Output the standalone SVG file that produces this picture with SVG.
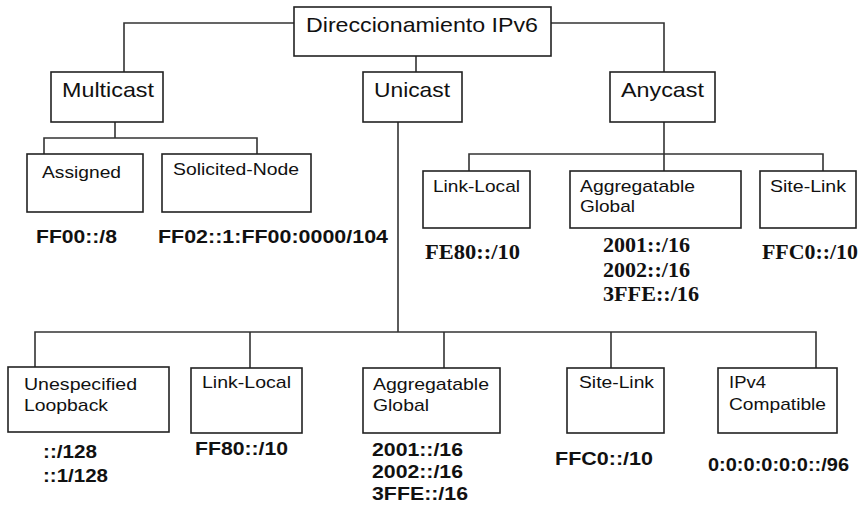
<svg xmlns="http://www.w3.org/2000/svg" width="864" height="506" viewBox="0 0 864 506">
<style>
.box{fill:#fff;stroke:#222;stroke-width:1.6}
.ln{fill:none;stroke:#333;stroke-width:1.6}
.t1{font-family:"Liberation Sans",Arial,sans-serif;font-size:21px;fill:#111}
.t2{font-family:"Liberation Sans",Arial,sans-serif;font-size:17px;fill:#111}
.b{font-family:"Liberation Sans",Arial,sans-serif;font-size:19px;font-weight:bold;fill:#111}
.s{font-family:"Liberation Serif","Times New Roman",serif;font-size:20px;font-weight:bold;fill:#111}
</style>
<rect width="864" height="506" fill="#fff"/>
<g id="connectors">
<polyline class="ln" points="294,23 124,23 124,72"/>
<line class="ln" x1="416" y1="56" x2="416" y2="72"/>
<polyline class="ln" points="551,23 664,23 664,72"/>
<line class="ln" x1="115" y1="122" x2="115" y2="138"/>
<polyline class="ln" points="44,154 44,138 257,138 257,154"/>
<line class="ln" x1="664" y1="122" x2="664" y2="171"/>
<polyline class="ln" points="469,171 469,154 823,154 823,171"/>
<line class="ln" x1="398" y1="122" x2="398" y2="332"/>
<polyline class="ln" points="35,367 35,332 816,332 816,368"/>
<line class="ln" x1="250" y1="332" x2="250" y2="368"/>
<line class="ln" x1="444" y1="332" x2="444" y2="368"/>
<line class="ln" x1="611" y1="332" x2="611" y2="368"/>
</g>
<g id="root">
<rect class="box" x="294" y="7" width="257" height="49"/>
<text class="t1" x="306" y="32" textLength="232" lengthAdjust="spacingAndGlyphs">Direccionamiento IPv6</text>
</g>
<g id="multicast">
<rect class="box" x="51" y="72" width="112" height="50"/>
<text class="t1" x="62" y="97" textLength="92" lengthAdjust="spacingAndGlyphs">Multicast</text>
</g>
<g id="unicast">
<rect class="box" x="363" y="72" width="99" height="50"/>
<text class="t1" x="374" y="97" textLength="76" lengthAdjust="spacingAndGlyphs">Unicast</text>
</g>
<g id="anycast">
<rect class="box" x="610" y="72" width="105" height="50"/>
<text class="t1" x="621" y="97" textLength="83" lengthAdjust="spacingAndGlyphs">Anycast</text>
</g>
<g id="assigned">
<rect class="box" x="27" y="154" width="116" height="58"/>
<text class="t2" x="42" y="178" textLength="79" lengthAdjust="spacingAndGlyphs">Assigned</text>
<text class="b" x="36" y="243" textLength="81" lengthAdjust="spacingAndGlyphs">FF00::/8</text>
</g>
<g id="solicited">
<rect class="box" x="162" y="154" width="149" height="58"/>
<text class="t2" x="173" y="175" textLength="126" lengthAdjust="spacingAndGlyphs">Solicited-Node</text>
<text class="b" x="158" y="243" textLength="230" lengthAdjust="spacingAndGlyphs">FF02::1:FF00:0000/104</text>
</g>
<g id="any-linklocal">
<rect class="box" x="423" y="171" width="107" height="57"/>
<text class="t2" x="433" y="192" textLength="87" lengthAdjust="spacingAndGlyphs">Link-Local</text>
<text class="s" x="425" y="259" textLength="95" lengthAdjust="spacingAndGlyphs">FE80::/10</text>
</g>
<g id="any-aggregatable">
<rect class="box" x="570" y="171" width="171" height="57"/>
<text class="t2" x="580" y="192" textLength="115" lengthAdjust="spacingAndGlyphs">Aggregatable</text>
<text class="t2" x="580" y="212" textLength="55" lengthAdjust="spacingAndGlyphs">Global</text>
<text class="s" x="603" y="252" textLength="87" lengthAdjust="spacingAndGlyphs">2001::/16</text>
<text class="s" x="603" y="277" textLength="87" lengthAdjust="spacingAndGlyphs">2002::/16</text>
<text class="s" x="603" y="301" textLength="96" lengthAdjust="spacingAndGlyphs">3FFE::/16</text>
</g>
<g id="any-sitelink">
<rect class="box" x="760" y="171" width="96" height="57"/>
<text class="t2" x="770" y="192" textLength="76" lengthAdjust="spacingAndGlyphs">Site-Link</text>
<text class="s" x="762" y="259" textLength="96" lengthAdjust="spacingAndGlyphs">FFC0::/10</text>
</g>
<g id="uni-unspecified">
<rect class="box" x="8" y="367" width="161" height="65"/>
<text class="t2" x="24" y="390" textLength="113" lengthAdjust="spacingAndGlyphs">Unespecified</text>
<text class="t2" x="24" y="411" textLength="84" lengthAdjust="spacingAndGlyphs">Loopback</text>
<text class="b" x="43" y="458" textLength="54" lengthAdjust="spacingAndGlyphs">::/128</text>
<text class="b" x="43" y="482" textLength="65" lengthAdjust="spacingAndGlyphs">::1/128</text>
</g>
<g id="uni-linklocal">
<rect class="box" x="191" y="368" width="111" height="65"/>
<text class="t2" x="202" y="388" textLength="89" lengthAdjust="spacingAndGlyphs">Link-Local</text>
<text class="b" x="195" y="455" textLength="93" lengthAdjust="spacingAndGlyphs">FF80::/10</text>
</g>
<g id="uni-aggregatable">
<rect class="box" x="363" y="368" width="137" height="65"/>
<text class="t2" x="373" y="390" textLength="116" lengthAdjust="spacingAndGlyphs">Aggregatable</text>
<text class="t2" x="373" y="411" textLength="56" lengthAdjust="spacingAndGlyphs">Global</text>
<text class="b" x="372" y="456" textLength="91" lengthAdjust="spacingAndGlyphs">2001::/16</text>
<text class="b" x="372" y="478" textLength="91" lengthAdjust="spacingAndGlyphs">2002::/16</text>
<text class="b" x="372" y="500" textLength="96" lengthAdjust="spacingAndGlyphs">3FFE::/16</text>
</g>
<g id="uni-sitelink">
<rect class="box" x="567" y="368" width="97" height="65"/>
<text class="t2" x="579" y="388" textLength="75" lengthAdjust="spacingAndGlyphs">Site-Link</text>
<text class="b" x="555" y="465" textLength="98" lengthAdjust="spacingAndGlyphs">FFC0::/10</text>
</g>
<g id="uni-ipv4">
<rect class="box" x="718" y="368" width="119" height="65"/>
<text class="t2" x="729" y="388" textLength="37" lengthAdjust="spacingAndGlyphs">IPv4</text>
<text class="t2" x="729" y="410" textLength="97" lengthAdjust="spacingAndGlyphs">Compatible</text>
<text class="b" x="708" y="471" textLength="141" lengthAdjust="spacingAndGlyphs">0:0:0:0:0:0::/96</text>
</g>
</svg>
